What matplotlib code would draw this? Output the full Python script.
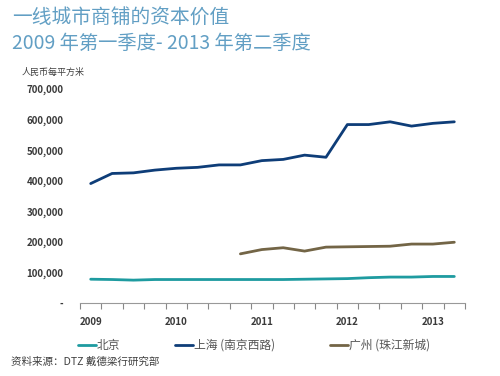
import numpy as np
import matplotlib
matplotlib.use("Agg")
import matplotlib.pyplot as plt
from matplotlib.ticker import FuncFormatter

plt.rcParams['font.family'] = ['Noto Sans CJK SC', 'DejaVu Sans']

quarters = ["2009Q1", "2009Q2", "2009Q3", "2009Q4",
            "2010Q1", "2010Q2", "2010Q3", "2010Q4",
            "2011Q1", "2011Q2", "2011Q3", "2011Q4",
            "2012Q1", "2012Q2", "2012Q3", "2012Q4",
            "2013Q1", "2013Q2"]
year_labels = ["2009", "2010", "2011", "2012", "2013"]

beijing = [78000, 77000, 75000, 77000, 77000, 77000, 77000, 77000, 77000,
           77000, 78000, 79000, 80000, 83000, 85000, 85000, 87000, 87000]
shanghai = [391000, 424000, 426000, 435000, 441000, 444000, 452000, 452000,
            466000, 470000, 484000, 477000, 584000, 584000, 593000, 579000,
            588000, 593000]
guangzhou = [np.nan] * 7 + [161000, 175000, 181000, 170000, 183000, 184000,
                            185000, 186000, 193000, 193000, 199000]

series_names = ["北京", "上海 (南京西路)", "广州 (珠江新城)"]
colors = ["#1e9ba0", "#0e3d78", "#736546"]

fig = plt.figure(figsize=(5.0, 3.76), dpi=100)
ax = fig.add_axes([0.16, 0.194, 0.77, 0.569])

x = np.arange(len(quarters))
for vals, name, c in zip([beijing, shanghai, guangzhou], series_names, colors):
    ax.plot(x, vals, color=c, lw=2.0, label=name, solid_capstyle='round')

ax.set_xlim(-0.5, len(quarters) - 0.5)
ax.set_ylim(0, 700000)
ax.set_yticks(np.arange(0, 700001, 100000))
ax.yaxis.set_major_formatter(FuncFormatter(lambda v, p: "-" if v == 0 else f"{int(v):,}"))
ax.tick_params(axis='y', length=0, pad=12, labelsize=7, labelcolor='#3a3a3a')

ax.set_xticks(np.arange(0, len(quarters), 4))
ax.set_xticklabels(year_labels)
ax.set_xticks(np.arange(-0.5, len(quarters), 1), minor=True)
ax.tick_params(axis='x', which='major', length=0, pad=10, labelsize=7, labelcolor='#3a3a3a')
ax.tick_params(axis='x', which='minor', length=4, color='#888888', width=0.8)

for s in ['top', 'right', 'left']:
    ax.spines[s].set_visible(False)
ax.spines['bottom'].set_color('#999999')
ax.spines['bottom'].set_linewidth(0.8)

for lbl in ax.get_yticklabels() + ax.get_xticklabels():
    lbl.set_fontweight('bold')

fig.text(0.024, 0.955, "一线城市商铺的资本价值", fontsize=14.2, color='#629fc4', va='center')
fig.text(0.024, 0.885, "2009 年第一季度- 2013 年第二季度", fontsize=13.9, color='#629fc4', va='center')
fig.text(0.044, 0.808, "人民币每平方米", fontsize=6.5, color='#404040', va='center')
fig.text(0.022, 0.037, "资料来源：DTZ 戴德梁行研究部", fontsize=7.6, color='#404040', va='center')

leg = fig.legend(loc='center left', bbox_to_anchor=(0.156, 0.082), ncol=3, frameon=False,
                 fontsize=8.5, handlelength=1.5, handletextpad=0.1, columnspacing=4.65,
                 borderpad=0, borderaxespad=0, labelcolor='#555555')

fig.savefig("out.png", dpi=100)
